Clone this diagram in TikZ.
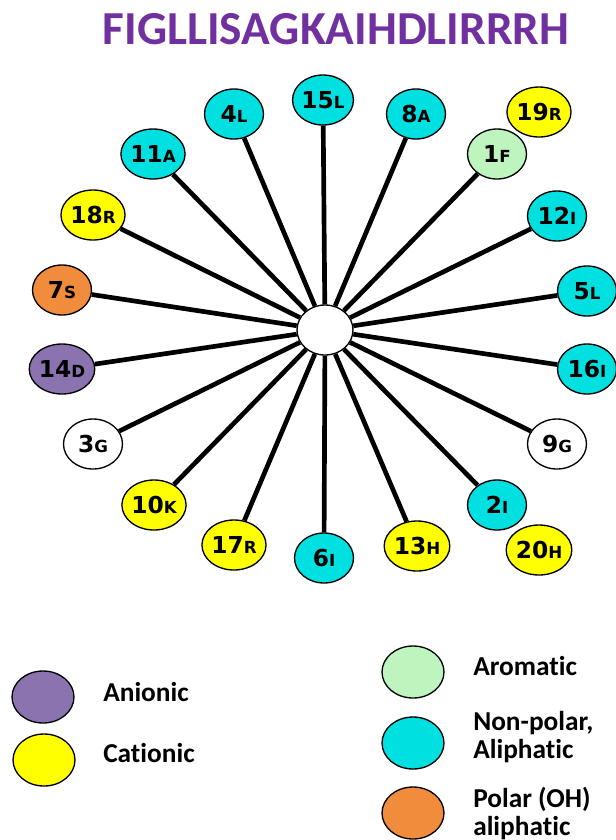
\documentclass[tikz,border=0pt]{standalone}
\usepackage{fontspec}
\setmainfont{Carlito}[Ligatures=NoCommon]
\newfontfamily\labfont{DejaVu Sans}
\usetikzlibrary{shapes.geometric}
\definecolor{cyanA}{RGB}{0,224,224}
\definecolor{yellowA}{RGB}{255,255,0}
\definecolor{orangeA}{RGB}{240,140,60}
\definecolor{purpleA}{RGB}{139,115,176}
\definecolor{greenA}{RGB}{190,245,190}
\definecolor{titlepurple}{RGB}{112,48,160}
\newcommand\aalab[2]{#1{\fontsize{12.5}{12.5}\selectfont #2}}
\begin{document}
\begin{tikzpicture}[x=0.75pt,y=-0.75pt,
  aa/.style={ellipse,draw=black,line width=1pt,minimum width=44.25pt,minimum height=37.5pt,inner sep=0pt,
    font=\labfont\bfseries\fontsize{17.5}{17.5}\selectfont},
  cy/.style={aa,fill=cyanA},
  ye/.style={aa,fill=yellowA},
  orr/.style={aa,fill=orangeA},
  pu/.style={aa,fill=purpleA},
  gr/.style={aa,fill=greenA},
  wh/.style={aa,fill=white},
  hub/.style={ellipse,draw=black,line width=1pt,fill=white,minimum width=42pt,minimum height=37.5pt,inner sep=0pt},
  spoke/.style={line width=3.5pt},
  legc/.style={ellipse,draw=black,line width=1pt,minimum width=46.5pt,minimum height=39pt,inner sep=0pt},
  legt/.style={anchor=base west,inner sep=0pt,font=\bfseries\fontsize{20.5}{21}\selectfont,align=left}
]
\useasboundingbox (0,0) rectangle (615,840);

\node[anchor=base,inner sep=0pt,text=titlepurple,font=\bfseries\fontsize{35.5}{35.5}\selectfont] (title) at (336,44) {FIGLLISAGKAIHDLIRRRH};

\node[hub] (c) at (325,330) {};

\node[cy] (n15) at (323,100) {\aalab{15}{L}};
\node[cy] (n8)  at (416,114) {\aalab{8}{A}};
\node[ye] (n19) at (539,112) {\aalab{19}{R}};
\node[gr] (n1)  at (497,154) {\aalab{1}{F}};
\node[cy] (n12) at (557,216) {\aalab{12}{I}};
\node[cy] (n5)  at (587,291) {\aalab{5}{L}};
\node[cy] (n16) at (587,369) {\aalab{16}{I}};
\node[wh] (n9)  at (557,444) {\aalab{9}{G}};
\node[cy] (n2)  at (497,505) {\aalab{2}{I}};
\node[ye] (n20) at (539,550) {\aalab{20}{H}};
\node[ye] (n13) at (417,546) {\aalab{13}{H}};
\node[cy] (n6)  at (324,558) {\aalab{6}{I}};
\node[ye] (n17) at (234,545) {\aalab{17}{R}};
\node[ye] (n10) at (154,505) {\aalab{10}{K}};
\node[wh] (n3)  at (93,444)  {\aalab{3}{G}};
\node[pu] (n14) at (62,369)  {\aalab{14}{D}};
\node[orr] (n7) at (62,290)  {\aalab{7}{S}};
\node[ye] (n18) at (93,215)  {\aalab{18}{R}};
\node[cy] (n11) at (153,154) {\aalab{11}{A}};
\node[cy] (n4)  at (234,114) {\aalab{4}{L}};

\foreach \n in {n15,n8,n1,n12,n5,n16,n9,n2,n13,n6,n17,n10,n3,n14,n7,n18,n11,n4}
  \draw[spoke] (c) -- (\n);

% legend
\node[legc,fill=purpleA] (lA) at (43,697) {};
\node[legt] (tA) at (103,701) {Anionic};
\node[legc,fill=yellowA] (lC) at (44,760) {};
\node[legt] (tC) at (103,762) {Cationic};
\node[legc,fill=greenA] (lR) at (413,672) {};
\node[legt] (tR) at (473,675) {Aromatic};
\node[legc,fill=cyanA] (lN) at (413,743) {};
\node[legt] (tN1) at (473,730) {Non-polar,};
\node[legt] (tN2) at (473,758) {Aliphatic};
\node[legc,fill=orangeA] (lP) at (413,813) {};
\node[legt] (tP1) at (473,807) {Polar (OH)};
\node[legt] (tP2) at (473,835) {aliphatic};
\end{tikzpicture}
\end{document}
